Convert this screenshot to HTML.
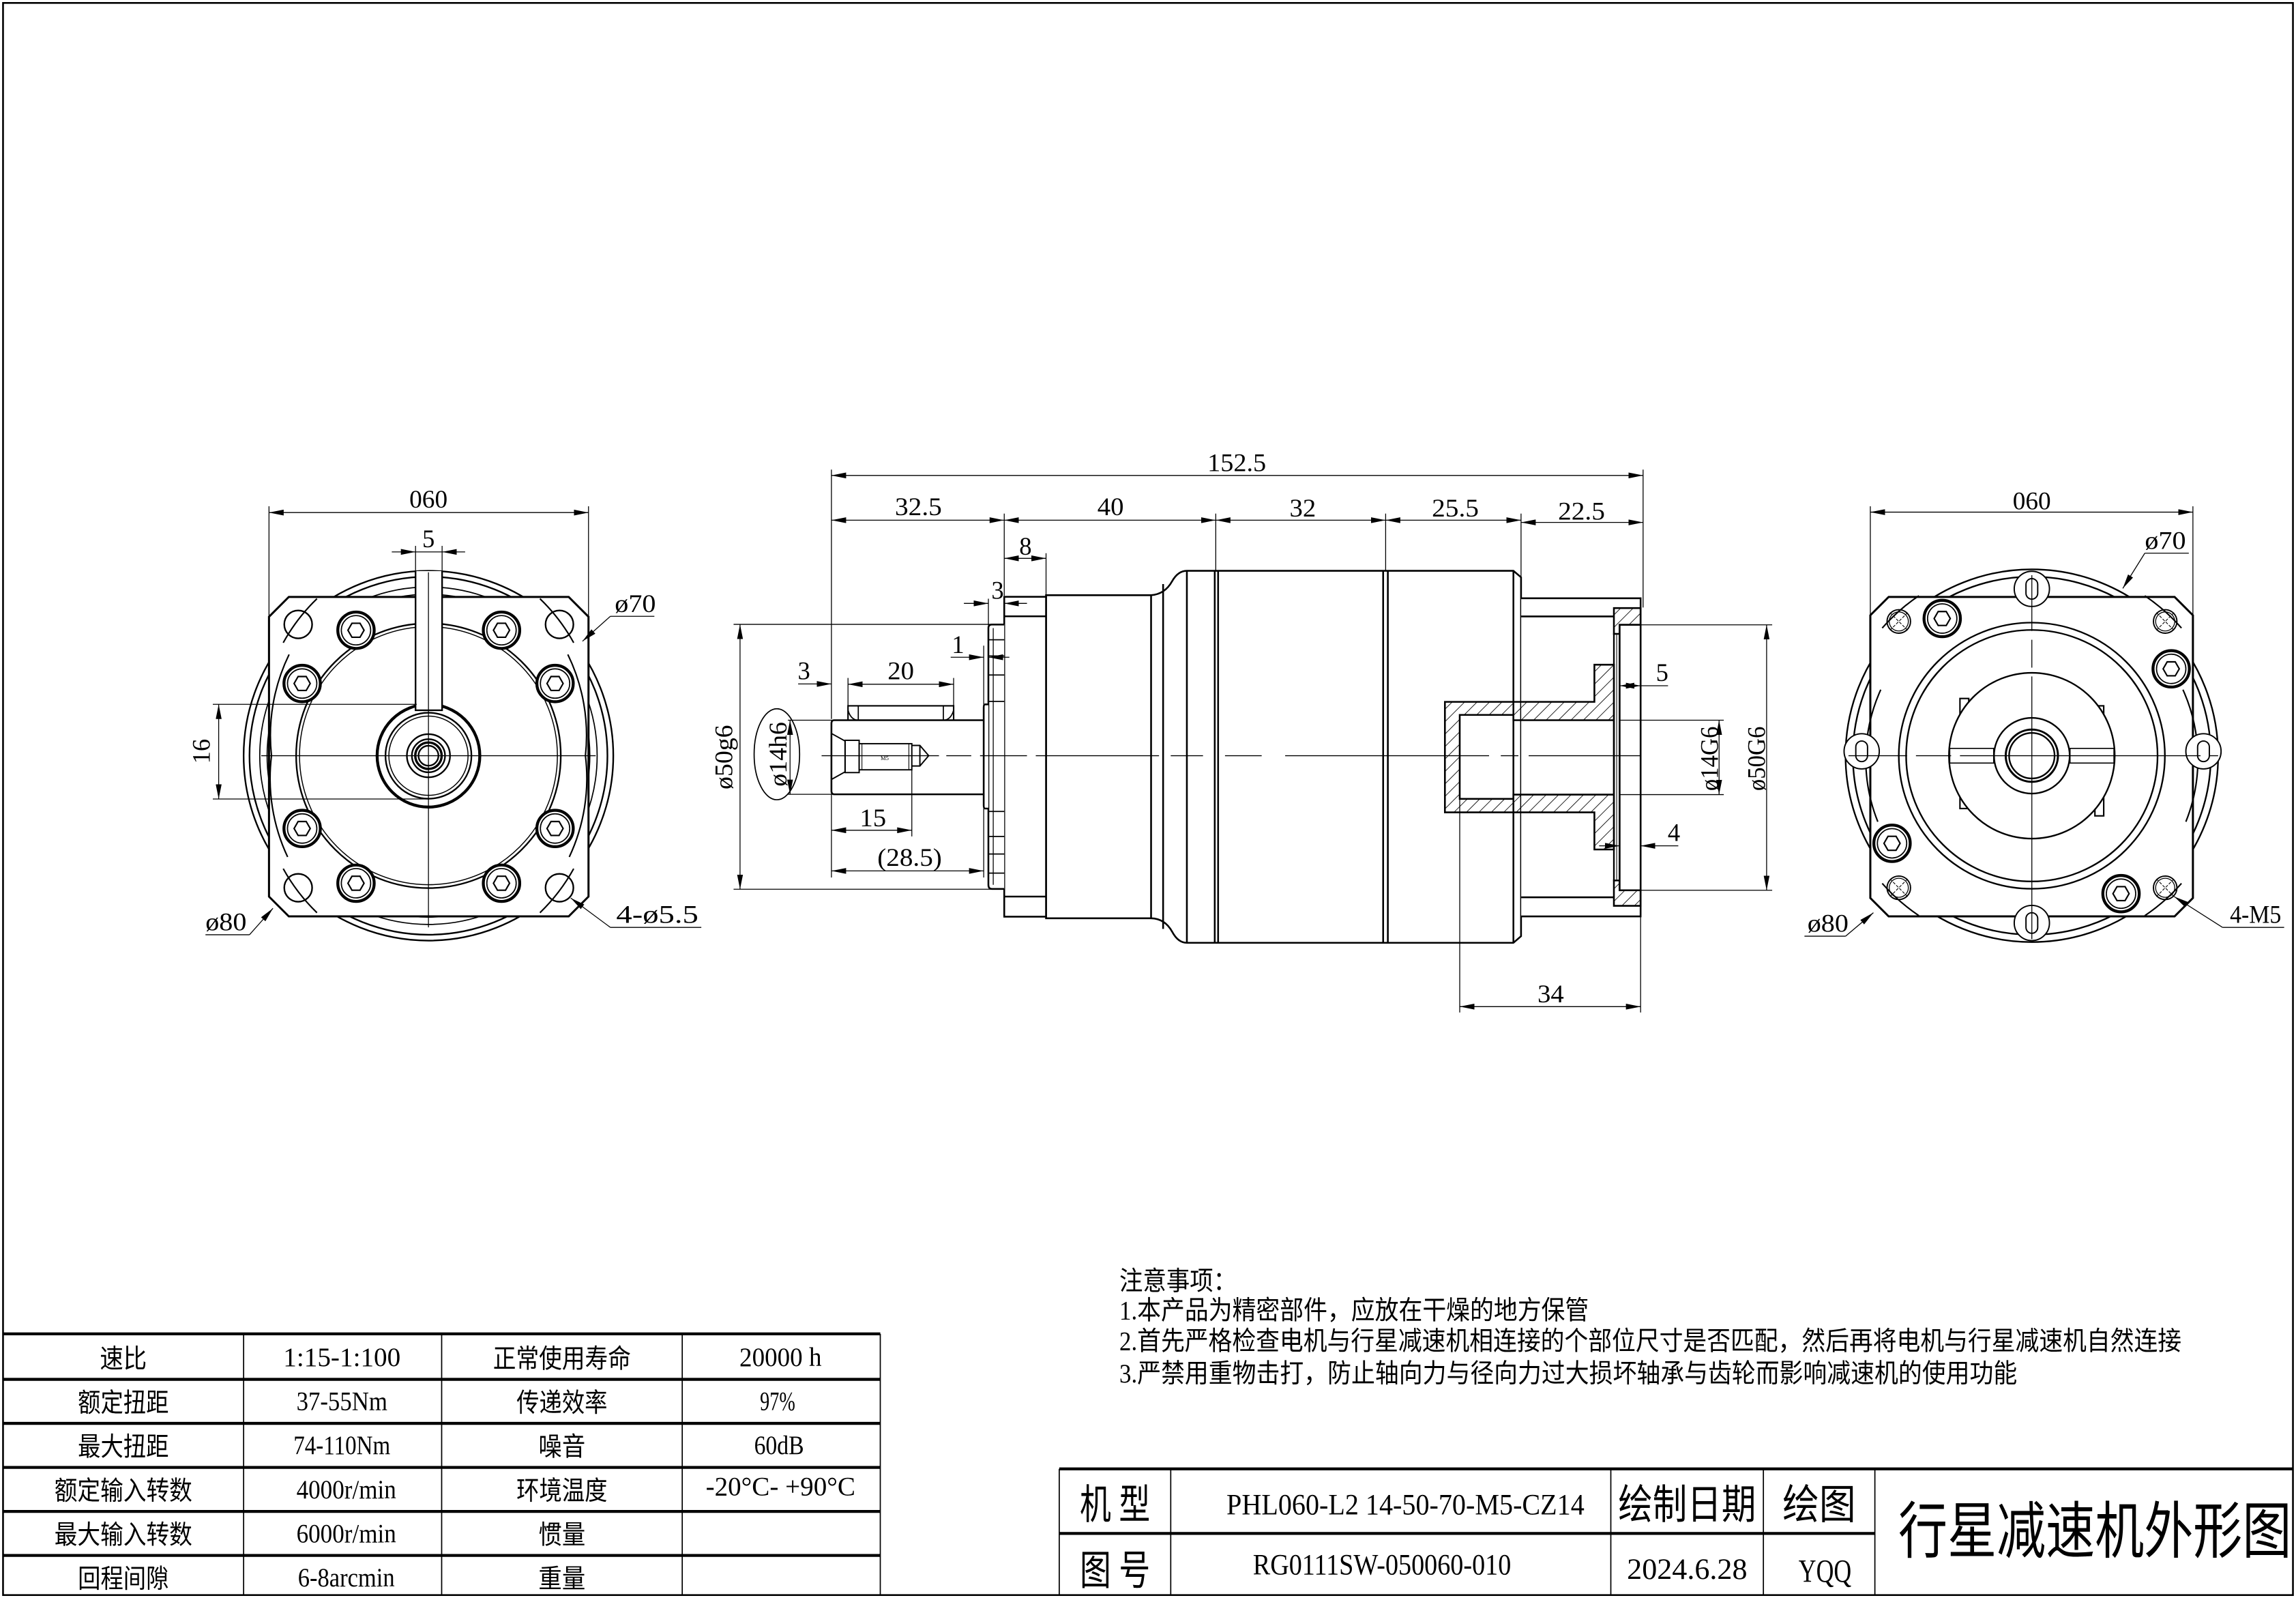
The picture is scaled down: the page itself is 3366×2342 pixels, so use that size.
<!DOCTYPE html>
<html><head><meta charset="utf-8"><style>
html,body{margin:0;padding:0;background:#fff;}
svg{display:block;}
text{font-family:"Liberation Serif","Noto Serif CJK SC",serif;fill:#000;}
.cn{font-family:"Liberation Serif","Noto Sans CJK SC",sans-serif;}
</style></head><body>
<svg width="3366" height="2342" viewBox="0 0 1565 1089" xmlns="http://www.w3.org/2000/svg">
<defs>
<marker id="a" viewBox="0 0 10 4" refX="10" refY="2" markerWidth="10" markerHeight="4" markerUnits="userSpaceOnUse" orient="auto-start-reverse"><path d="M0,0 L10,2 L0,4 Z" fill="#000"/></marker>
<pattern id="h" patternUnits="userSpaceOnUse" width="6" height="6" patternTransform="rotate(45)"><line x1="0" y1="0" x2="0" y2="6" stroke="#000" stroke-width="0.8"/></pattern>
<g id="hex"><circle r="12.4" fill="#fff" stroke="#000" stroke-width="2"/><circle r="10" fill="none" stroke="#000" stroke-width="0.8"/><polygon points="5.5,0 2.75,4.76 -2.75,4.76 -5.5,0 -2.75,-4.76 2.75,-4.76" fill="none" stroke="#000" stroke-width="1"/></g>
<g id="tap"><circle r="8" fill="none" stroke="#000" stroke-width="0.9"/><circle r="6.5" fill="none" stroke="#000" stroke-width="0.6"/><line x1="-6" y1="-6" x2="6" y2="6" stroke="#000" stroke-width="0.5" stroke-dasharray="2,1"/><line x1="6" y1="-6" x2="-6" y2="6" stroke="#000" stroke-width="0.5" stroke-dasharray="2,1"/></g>
<g id="slot"><circle r="12" fill="#fff" stroke="#000" stroke-width="0.9"/><rect x="-4" y="-7" width="8" height="14" rx="4" fill="none" stroke="#000" stroke-width="0.9"/></g>
</defs>
<rect x="0" y="0" width="1565" height="1089" fill="#fff"/>
<rect x="2" y="2" width="1561" height="1085" fill="none" stroke="#000" stroke-width="1.2"/>

<!-- ================= LEFT VIEW ================= -->
<g fill="none" stroke="#000" stroke-width="1.1">
<circle cx="292" cy="515" r="126"/>
<circle cx="292" cy="515" r="122"/>
<circle cx="292" cy="515" r="115" stroke-width="0.8"/>
<circle cx="292" cy="515" r="110" stroke-width="0.8"/>
<path d="M196.8,406.8 H387.6 L401.1,420.3 V611 L387.6,624.5 H196.8 L183.3,611 V420.3 Z" fill="#fff" stroke-width="1.4"/>
<path d="M216,622 A127,127 0 0 1 193,592" stroke-width="1"/>
<path d="M368,622 A127,127 0 0 0 391,592" stroke-width="1"/>
<path d="M193,438 A127,127 0 0 1 216,408" stroke-width="1"/>
<path d="M391,438 A127,127 0 0 0 368,408" stroke-width="1"/>
<path d="M387,446 A126,126 0 0 1 399,515 A126,126 0 0 1 388,584" stroke-width="1"/>
<path d="M197,446 A126,126 0 0 0 185,515 A126,126 0 0 0 196,584" stroke-width="1"/>
<circle cx="292" cy="515" r="90.2"/>
<circle cx="292" cy="515" r="87.9" stroke-width="0.7"/>
<circle cx="203.2" cy="425.5" r="9.5"/><circle cx="381.3" cy="425.5" r="9.5"/>
<circle cx="203.2" cy="605" r="9.5"/><circle cx="381.3" cy="605" r="9.5"/>
<circle cx="292" cy="515" r="35" fill="#fff" stroke-width="2"/>
<circle cx="292" cy="515" r="29.3"/>
<circle cx="292" cy="515" r="27" stroke-width="0.7"/>
<circle cx="292" cy="515" r="14.7"/>
<circle cx="292" cy="515" r="11.3"/>
<circle cx="292" cy="515" r="9" stroke-width="1.6"/>
<circle cx="292" cy="515" r="6.8"/>
<path d="M283.2,389.2 V484 H301.3 V389.2" fill="#fff"/>
</g>
<use href="#hex" x="242.6" y="429.5"/><use href="#hex" x="341.8" y="429.5"/>
<use href="#hex" x="205.9" y="465.8"/><use href="#hex" x="378.3" y="465.8"/>
<use href="#hex" x="205.9" y="564.6"/><use href="#hex" x="378.3" y="564.6"/>
<use href="#hex" x="242.6" y="601.9"/><use href="#hex" x="341.8" y="601.9"/>
<g stroke="#000" stroke-width="0.6" fill="none">
<line x1="292" y1="390" x2="292" y2="632"/>
<line x1="178" y1="515" x2="406" y2="515"/>
<line x1="183.3" y1="345" x2="183.3" y2="420"/><line x1="401.1" y1="345" x2="401.1" y2="420"/>
<line x1="183.3" y1="349.3" x2="401.1" y2="349.3" marker-start="url(#a)" marker-end="url(#a)"/>
<line x1="283.2" y1="372" x2="283.2" y2="390"/><line x1="301.3" y1="372" x2="301.3" y2="390"/>
<line x1="267" y1="376.1" x2="283.2" y2="376.1" marker-end="url(#a)"/>
<line x1="317" y1="376.1" x2="301.3" y2="376.1" marker-end="url(#a)"/>
<line x1="283.2" y1="376.1" x2="301.3" y2="376.1"/>
<line x1="145" y1="480" x2="284" y2="480"/><line x1="145" y1="544.5" x2="292" y2="544.5"/>
<line x1="149" y1="480" x2="149" y2="544.5" marker-start="url(#a)" marker-end="url(#a)"/>
<line x1="446" y1="420" x2="416" y2="420"/><line x1="416" y1="420" x2="397" y2="437" marker-end="url(#a)"/>
<line x1="140" y1="637" x2="170" y2="637"/><line x1="170" y1="637" x2="186" y2="619" marker-end="url(#a)"/>
<line x1="478" y1="632" x2="416" y2="632"/><line x1="416" y1="632" x2="389" y2="612" marker-end="url(#a)"/>
</g>
<text x="292" y="346" font-size="17" text-anchor="middle" textLength="26" lengthAdjust="spacingAndGlyphs">060</text>
<text x="292" y="373" font-size="17" text-anchor="middle">5</text>
<text x="143" y="512" font-size="17" text-anchor="middle" transform="rotate(-90 143 512)">16</text>
<text x="419" y="417" font-size="17" textLength="28" lengthAdjust="spacingAndGlyphs">ø70</text>
<text x="140" y="634" font-size="17" textLength="28" lengthAdjust="spacingAndGlyphs">ø80</text>
<text x="420" y="629" font-size="17" textLength="56" lengthAdjust="spacingAndGlyphs">4-ø5.5</text>

<!-- ================= MIDDLE VIEW ================= -->
<g fill="none" stroke="#000" stroke-width="1.2">
<!-- body -->
<path d="M713,405.6 H784.6 Q794,405 799,396 Q803,389 809,389 H1031.6 L1036.8,393.4 V638 L1031.6,642.5 H809 Q803,642.5 799,635 Q794,626 784.6,625.8 H713 Z" fill="#fff"/>
<line x1="784.6" y1="405.6" x2="784.6" y2="625.8"/>
<line x1="792.8" y1="398" x2="792.8" y2="633"/>
<line x1="809" y1="389" x2="809" y2="642.5"/>
<line x1="828" y1="389" x2="828" y2="642.5"/>
<line x1="830.3" y1="389" x2="830.3" y2="642.5"/>
<line x1="942.8" y1="389" x2="942.8" y2="642.5"/>
<line x1="946" y1="389" x2="946" y2="642.5"/>
<line x1="1031.6" y1="389" x2="1031.6" y2="642.5"/>
<!-- flange -->
<rect x="684.5" y="406.7" width="28.5" height="218" fill="#fff"/>
<line x1="684.5" y1="420" x2="713" y2="420"/><line x1="684.5" y1="611" x2="713" y2="611"/>
<!-- thin plate -->
<path d="M684.5,425.6 H676 Q673.7,425.6 673.7,428 V603 Q673.7,605.8 676,605.8 H684.5" fill="#fff"/>
<path d="M673.7,436 H684.5 M673.7,447 H684.5 M673.7,460 H684.5 M673.7,478 H684.5 M673.7,553 H684.5 M673.7,570 H684.5 M673.7,582 H684.5 M673.7,595 H684.5" stroke-width="0.8"/>
<line x1="677" y1="428" x2="677" y2="603" stroke-width="0.6"/>
<!-- collar -->
<path d="M673.7,480 H671.5 Q670.5,480 670.5,482 V549 Q670.5,551 671.5,551 H673.7" fill="#fff"/>
<!-- shaft -->
<path d="M670.5,490.8 H568.5 Q566.7,490.8 566.7,493 V539 Q566.7,541.3 568.5,541.3 H670.5"/>
<path d="M578,490.8 V481 H650 V490.8" stroke-width="1"/>
<path d="M578,484 Q580,490.8 585,490.8 M650,484 Q648,490.8 643,490.8" stroke-width="0.8"/>
<line x1="585" y1="481" x2="585" y2="490.8" stroke-width="0.8"/><line x1="643" y1="481" x2="643" y2="490.8" stroke-width="0.8"/>
<path d="M567,500 L576,505 V526 L567,531" stroke-width="0.9"/>
<rect x="576" y="504.5" width="9.6" height="22" stroke-width="0.9"/>
<rect x="585.6" y="506.8" width="35.9" height="17.8" stroke-width="0.9"/>
<line x1="587.5" y1="507" x2="587.5" y2="524.6" stroke-width="0.5"/>
<line x1="619.5" y1="507" x2="619.5" y2="524.6" stroke-width="0.5"/>
<path d="M621.5,508 H627 L633,515 L627,522 H621.5 M627,508 V522" stroke-width="0.9"/>
<!-- output housing -->
<path d="M1036.9,407.7 H1118.3 V624.5 H1036.9" fill="#fff"/>
<line x1="1036.9" y1="420.1" x2="1100.1" y2="420.1"/><line x1="1036.9" y1="611.5" x2="1100.1" y2="611.5"/>
</g>
<!-- hatched flange -->
<path d="M1100.1,414.4 H1118.3 V425.8 H1104 V432 H1100.1 Z M1100.1,617.3 H1118.3 V606.7 H1104 V600 H1100.1 Z" fill="url(#h)" stroke="#000" stroke-width="1.2"/>
<rect x="1100.1" y="432" width="3.9" height="168" fill="#fff" stroke="#000" stroke-width="1.1"/>
<line x1="1102" y1="432" x2="1102" y2="600" stroke="#000" stroke-width="0.5"/>
<rect x="1104" y="425.8" width="14.3" height="180.9" fill="#fff" stroke="#000" stroke-width="1.2"/>
<!-- hub -->
<path d="M984.9,478.3 H1086.8 V453 H1100.1 V578.9 H1086.8 V553.6 H984.9 Z M995,487.2 H1031.6 V490.8 H1100.1 V541.5 H1031.6 V544.4 H995 Z" fill="url(#h)" fill-rule="evenodd" stroke="#000" stroke-width="1.2"/>
<!-- centerline -->
<g stroke="#000" stroke-width="0.6">
<path d="M560,515 H640 M645,515 H662 M668,515 H700 M706,515 H790 M798,515 H820 M835,515 H860 M876,515 H1015 M1023,515 H1035 M1042,515 H1118"/>
</g>
<text x="603" y="518" font-size="4" text-anchor="middle">M5</text>
<!-- dimensions -->
<g stroke="#000" stroke-width="0.6" fill="none">
<line x1="566.7" y1="320" x2="566.7" y2="490"/>
<line x1="1120" y1="320" x2="1120" y2="414"/>
<line x1="684.5" y1="350" x2="684.5" y2="406"/>
<line x1="713" y1="377" x2="713" y2="405"/>
<line x1="828.7" y1="350" x2="828.7" y2="389"/>
<line x1="944.5" y1="350" x2="944.5" y2="389"/>
<line x1="1036.8" y1="350" x2="1036.8" y2="393"/>
<line x1="566.7" y1="324" x2="1120" y2="324" marker-start="url(#a)" marker-end="url(#a)"/>
<line x1="566.7" y1="354.5" x2="684.5" y2="354.5" marker-start="url(#a)" marker-end="url(#a)"/>
<line x1="684.5" y1="354.5" x2="828.7" y2="354.5" marker-start="url(#a)" marker-end="url(#a)"/>
<line x1="828.7" y1="354.5" x2="944.5" y2="354.5" marker-start="url(#a)" marker-end="url(#a)"/>
<line x1="944.5" y1="354.5" x2="1036.8" y2="354.5" marker-start="url(#a)" marker-end="url(#a)"/>
<line x1="1036.8" y1="356" x2="1120" y2="356" marker-start="url(#a)" marker-end="url(#a)"/>
<line x1="684.5" y1="380.5" x2="713" y2="380.5" marker-start="url(#a)" marker-end="url(#a)"/>
<line x1="673.7" y1="408" x2="673.7" y2="426"/>
<line x1="657" y1="411.2" x2="673.7" y2="411.2" marker-end="url(#a)"/>
<line x1="700" y1="411.2" x2="684.5" y2="411.2" marker-end="url(#a)"/>
<line x1="670.5" y1="440" x2="670.5" y2="480"/>
<line x1="648" y1="447.9" x2="670.5" y2="447.9" marker-end="url(#a)"/>
<line x1="688" y1="447.9" x2="673.7" y2="447.9" marker-end="url(#a)"/>
<line x1="578" y1="462" x2="578" y2="482"/><line x1="650" y1="462" x2="650" y2="482"/>
<line x1="578" y1="466.3" x2="650" y2="466.3" marker-start="url(#a)" marker-end="url(#a)"/>
<line x1="544" y1="466.1" x2="566.7" y2="466.1" marker-end="url(#a)"/>
<line x1="566.7" y1="541" x2="566.7" y2="598"/>
<line x1="621.5" y1="524" x2="621.5" y2="570"/>
<line x1="566.7" y1="565.8" x2="621.5" y2="565.8" marker-start="url(#a)" marker-end="url(#a)"/>
<line x1="670.5" y1="551" x2="670.5" y2="598"/>
<line x1="566.7" y1="593.5" x2="670.5" y2="593.5" marker-start="url(#a)" marker-end="url(#a)"/>
<line x1="500" y1="425.5" x2="676" y2="425.5"/><line x1="500" y1="606" x2="676" y2="606"/>
<line x1="504.4" y1="425.5" x2="504.4" y2="606" marker-start="url(#a)" marker-end="url(#a)"/>
<line x1="537" y1="490.8" x2="567" y2="490.8"/><line x1="537" y1="541.3" x2="567" y2="541.3"/>
<line x1="538.5" y1="490.8" x2="538.5" y2="541.3" marker-start="url(#a)" marker-end="url(#a)"/>
<ellipse cx="529.5" cy="514" rx="15.5" ry="31" stroke-width="0.8"/>
<line x1="1104" y1="490.8" x2="1175" y2="490.8"/><line x1="1104" y1="541.5" x2="1175" y2="541.5"/>
<line x1="1171.8" y1="490.8" x2="1171.8" y2="541.5" marker-start="url(#a)" marker-end="url(#a)"/>
<line x1="1118.3" y1="425.8" x2="1208" y2="425.8"/><line x1="1118.3" y1="606.7" x2="1208" y2="606.7"/>
<line x1="1204.2" y1="425.8" x2="1204.2" y2="606.7" marker-start="url(#a)" marker-end="url(#a)"/>
<line x1="1104" y1="467.3" x2="1118.3" y2="467.3" marker-start="url(#a)" marker-end="url(#a)"/>
<line x1="1118.3" y1="467.3" x2="1137" y2="467.3"/>
<line x1="1090" y1="576.4" x2="1104" y2="576.4" marker-end="url(#a)"/>
<line x1="1144" y1="576.4" x2="1118.3" y2="576.4" marker-end="url(#a)"/>
<line x1="995" y1="544" x2="995" y2="690"/><line x1="1118.3" y1="624" x2="1118.3" y2="690"/>
<line x1="995" y1="686" x2="1118.3" y2="686" marker-start="url(#a)" marker-end="url(#a)"/>
</g>
<g font-size="17" text-anchor="middle">
<text x="843" y="321" textLength="40" lengthAdjust="spacingAndGlyphs">152.5</text>
<text x="626" y="351" textLength="32" lengthAdjust="spacingAndGlyphs">32.5</text>
<text x="757" y="351" textLength="18" lengthAdjust="spacingAndGlyphs">40</text>
<text x="888" y="352" textLength="18" lengthAdjust="spacingAndGlyphs">32</text>
<text x="992" y="352" textLength="32" lengthAdjust="spacingAndGlyphs">25.5</text>
<text x="1078" y="354" textLength="32" lengthAdjust="spacingAndGlyphs">22.5</text>
<text x="699" y="378">8</text>
<text x="680" y="408">3</text>
<text x="653" y="445">1</text>
<text x="614" y="463" textLength="18" lengthAdjust="spacingAndGlyphs">20</text>
<text x="548" y="463">3</text>
<text x="595" y="563" textLength="18" lengthAdjust="spacingAndGlyphs">15</text>
<text x="620" y="590" textLength="44" lengthAdjust="spacingAndGlyphs">(28.5)</text>
<text x="499" y="516" transform="rotate(-90 499 516)" textLength="44" lengthAdjust="spacingAndGlyphs">ø50g6</text>
<text x="536" y="514" transform="rotate(-90 536 514)" textLength="44" lengthAdjust="spacingAndGlyphs">ø14h6</text>
<text x="1133" y="464">5</text>
<text x="1141" y="573">4</text>
<text x="1171" y="517" transform="rotate(-90 1171 517)" textLength="44" lengthAdjust="spacingAndGlyphs">ø14G6</text>
<text x="1203" y="517" transform="rotate(-90 1203 517)" textLength="44" lengthAdjust="spacingAndGlyphs">ø50G6</text>
<text x="1057" y="683" textLength="18" lengthAdjust="spacingAndGlyphs">34</text>
</g>

<!-- ================= RIGHT VIEW ================= -->
<g fill="none" stroke="#000" stroke-width="1.1">
<circle cx="1385" cy="515" r="127"/>
<circle cx="1385" cy="515" r="122"/>
<path d="M1287.4,406.8 H1482.3 L1494.8,419.3 V612 L1482.3,624.5 H1287.4 L1274.9,612 V419.3 Z" fill="#fff" stroke-width="1.4"/>
<path d="M1283,428 A129,129 0 0 1 1308,406" stroke-width="1"/>
<path d="M1462,406 A129,129 0 0 1 1487,428" stroke-width="1"/>
<path d="M1488,470 A115,115 0 0 1 1490,560" stroke-width="1"/>
<path d="M1282,470 A115,115 0 0 0 1280,560" stroke-width="1"/>
<path d="M1283,602 A129,129 0 0 0 1308,624" stroke-width="1"/>
<path d="M1462,624 A129,129 0 0 0 1487,602" stroke-width="1"/>
<circle cx="1385" cy="515" r="90.7"/>
<circle cx="1385" cy="515" r="85.7"/>
<rect x="1336" y="476" width="6" height="75" stroke-width="1"/>
<rect x="1428" y="481" width="6" height="75" stroke-width="1"/>
<circle cx="1385" cy="515" r="56.5" fill="#fff"/>
<circle cx="1385" cy="515" r="25.8"/>
<circle cx="1385" cy="515" r="17.8" stroke-width="1.4"/>
<circle cx="1385" cy="515" r="15.5"/>
<path d="M1329,510 H1359 V520 H1329 Z M1411,510 H1441 V520 H1411 Z" stroke-width="0.8" fill="#fff"/>
</g>
<use href="#slot" x="1385" y="401.3"/><use href="#slot" x="1385" y="629"/>
<use href="#slot" x="1269" y="512"/><use href="#slot" x="1502" y="512"/>
<use href="#hex" x="1323.9" y="421.5"/><use href="#hex" x="1480" y="455.8"/>
<use href="#hex" x="1289.7" y="574.7"/><use href="#hex" x="1445.8" y="609"/>
<use href="#tap" x="1294.3" y="423.5"/><use href="#tap" x="1475.9" y="423.5"/>
<use href="#tap" x="1294.3" y="605"/><use href="#tap" x="1475.9" y="605"/>
<g stroke="#000" stroke-width="0.6" fill="none">
<path d="M1385,392 V430 M1385,436 V455 M1385,461 V640" />
<path d="M1260,515 H1300 M1306,515 H1330 M1336,515 H1500 M1506,515 H1512"/>
<line x1="1274.9" y1="345" x2="1274.9" y2="420"/><line x1="1494.8" y1="345" x2="1494.8" y2="420"/>
<line x1="1274.9" y1="349" x2="1494.8" y2="349" marker-start="url(#a)" marker-end="url(#a)"/>
<line x1="1492" y1="377" x2="1462" y2="377"/><line x1="1462" y1="377" x2="1447" y2="401" marker-end="url(#a)"/>
<line x1="1230" y1="638" x2="1258" y2="638"/><line x1="1258" y1="638" x2="1277" y2="622" marker-end="url(#a)"/>
<line x1="1557" y1="632" x2="1515" y2="632"/><line x1="1515" y1="632" x2="1482" y2="611" marker-end="url(#a)"/>
</g>
<text x="1385" y="347" font-size="17" text-anchor="middle" textLength="26" lengthAdjust="spacingAndGlyphs">060</text>
<text x="1462" y="374" font-size="17" textLength="28" lengthAdjust="spacingAndGlyphs">ø70</text>
<text x="1232" y="635" font-size="17" textLength="28" lengthAdjust="spacingAndGlyphs">ø80</text>
<text x="1520" y="629" font-size="17" textLength="35" lengthAdjust="spacingAndGlyphs">4-M5</text>

<!-- ================= NOTES ================= -->
<g class="cn" font-size="18">
<text class="cn" x="763" y="879" textLength="80" lengthAdjust="spacingAndGlyphs">注意事项：</text>
<text class="cn" x="763" y="899" textLength="320" lengthAdjust="spacingAndGlyphs">1.本产品为精密部件，应放在干燥的地方保管</text>
<text class="cn" x="763" y="920" textLength="724" lengthAdjust="spacingAndGlyphs">2.首先严格检查电机与行星减速机相连接的个部位尺寸是否匹配，然后再将电机与行星减速机自然连接</text>
<text class="cn" x="763" y="942" textLength="612" lengthAdjust="spacingAndGlyphs">3.严禁用重物击打，防止轴向力与径向力过大损坏轴承与齿轮而影响减速机的使用功能</text>
</g>

<!-- ================= PARAM TABLE ================= -->
<g stroke="#000" fill="none">
<line x1="2" y1="909" x2="600" y2="909" stroke-width="2"/>
<line x1="2" y1="940" x2="600" y2="940" stroke-width="2"/>
<line x1="2" y1="970" x2="600" y2="970" stroke-width="2"/>
<line x1="2" y1="1000" x2="600" y2="1000" stroke-width="2"/>
<line x1="2" y1="1030" x2="600" y2="1030" stroke-width="2"/>
<line x1="2" y1="1060" x2="600" y2="1060" stroke-width="2"/>
<line x1="166" y1="909" x2="166" y2="1087" stroke-width="0.8"/>
<line x1="301" y1="909" x2="301" y2="1087" stroke-width="0.8"/>
<line x1="465" y1="909" x2="465" y2="1087" stroke-width="0.8"/>
<line x1="600" y1="909" x2="600" y2="1087" stroke-width="0.8"/>
</g>
<g class="cn" font-size="18" text-anchor="middle">
<text class="cn" x="84" y="932" textLength="32" lengthAdjust="spacingAndGlyphs">速比</text>
<text x="233" y="931" textLength="80" lengthAdjust="spacingAndGlyphs">1:15-1:100</text>
<text class="cn" x="383" y="932" textLength="94" lengthAdjust="spacingAndGlyphs">正常使用寿命</text>
<text x="532" y="931" textLength="56" lengthAdjust="spacingAndGlyphs">20000 h</text>
<text class="cn" x="84" y="962" textLength="62" lengthAdjust="spacingAndGlyphs">额定扭距</text>
<text x="233" y="961" textLength="62" lengthAdjust="spacingAndGlyphs">37-55Nm</text>
<text class="cn" x="383" y="962" textLength="62" lengthAdjust="spacingAndGlyphs">传递效率</text>
<text x="530" y="961" textLength="24" lengthAdjust="spacingAndGlyphs">97%</text>
<text class="cn" x="84" y="992" textLength="62" lengthAdjust="spacingAndGlyphs">最大扭距</text>
<text x="233" y="991" textLength="66" lengthAdjust="spacingAndGlyphs">74-110Nm</text>
<text class="cn" x="383" y="992" textLength="32" lengthAdjust="spacingAndGlyphs">噪音</text>
<text x="531" y="991" textLength="34" lengthAdjust="spacingAndGlyphs">60dB</text>
<text class="cn" x="84" y="1022" textLength="94" lengthAdjust="spacingAndGlyphs">额定输入转数</text>
<text x="236" y="1021" textLength="68" lengthAdjust="spacingAndGlyphs">4000r/min</text>
<text class="cn" x="383" y="1022" textLength="62" lengthAdjust="spacingAndGlyphs">环境温度</text>
<text x="532" y="1019" textLength="102" lengthAdjust="spacingAndGlyphs">-20°C- +90°C</text>
<text class="cn" x="84" y="1052" textLength="94" lengthAdjust="spacingAndGlyphs">最大输入转数</text>
<text x="236" y="1051" textLength="68" lengthAdjust="spacingAndGlyphs">6000r/min</text>
<text class="cn" x="383" y="1052" textLength="32" lengthAdjust="spacingAndGlyphs">惯量</text>
<text class="cn" x="84" y="1082" textLength="62" lengthAdjust="spacingAndGlyphs">回程间隙</text>
<text x="236" y="1081" textLength="66" lengthAdjust="spacingAndGlyphs">6-8arcmin</text>
<text class="cn" x="383" y="1082" textLength="32" lengthAdjust="spacingAndGlyphs">重量</text>
</g>

<!-- ================= TITLE BLOCK ================= -->
<g stroke="#000" fill="none">
<line x1="722" y1="1001" x2="1563" y2="1001" stroke-width="2"/>
<line x1="722" y1="1045" x2="1278" y2="1045" stroke-width="2"/>
<line x1="722" y1="1001" x2="722" y2="1087" stroke-width="0.8"/>
<line x1="798" y1="1001" x2="798" y2="1087" stroke-width="0.8"/>
<line x1="1098" y1="1001" x2="1098" y2="1087" stroke-width="0.8"/>
<line x1="1202" y1="1001" x2="1202" y2="1087" stroke-width="0.8"/>
<line x1="1278" y1="1001" x2="1278" y2="1087" stroke-width="0.8"/>
</g>
<g class="cn" text-anchor="middle">
<text class="cn" x="760" y="1035" font-size="28" textLength="48" lengthAdjust="spacingAndGlyphs">机 型</text>
<text x="958" y="1032" font-size="20" textLength="244" lengthAdjust="spacingAndGlyphs">PHL060-L2 14-50-70-M5-CZ14</text>
<text class="cn" x="1150" y="1035" font-size="28" textLength="94" lengthAdjust="spacingAndGlyphs">绘制日期</text>
<text class="cn" x="1240" y="1035" font-size="28" textLength="50" lengthAdjust="spacingAndGlyphs">绘图</text>
<text class="cn" x="760" y="1080" font-size="28" textLength="48" lengthAdjust="spacingAndGlyphs">图 号</text>
<text x="942" y="1073" font-size="20" textLength="176" lengthAdjust="spacingAndGlyphs">RG0111SW-050060-010</text>
<text x="1150" y="1076" font-size="20" textLength="82" lengthAdjust="spacingAndGlyphs">2024.6.28</text>
<text x="1244" y="1078" font-size="22" textLength="36" lengthAdjust="spacingAndGlyphs">YQQ</text>
<text class="cn" x="1428" y="1058" font-size="42" textLength="268" lengthAdjust="spacingAndGlyphs">行星减速机外形图</text>
</g>
</svg>
</body></html>
